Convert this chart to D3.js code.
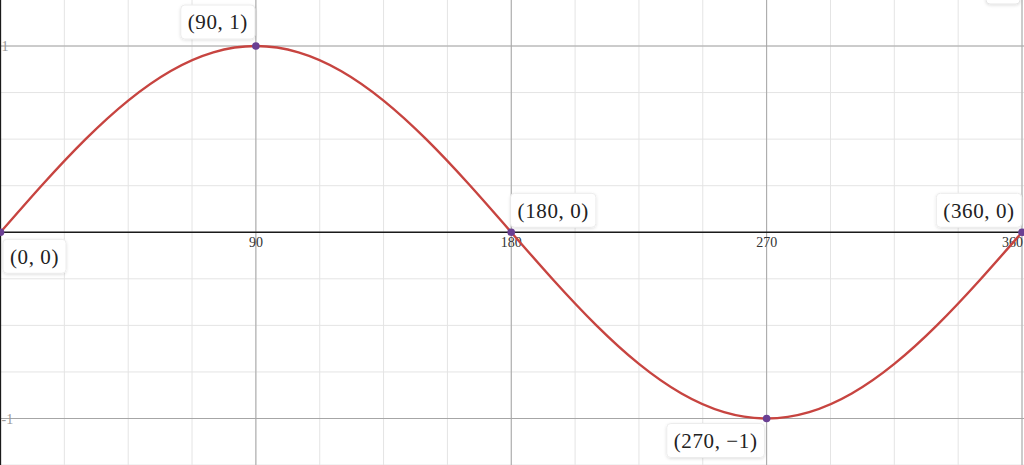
<!DOCTYPE html>
<html><head><meta charset="utf-8">
<script src="https://cdn.jsdelivr.net/npm/d3@7"></script>
<style>
html,body{margin:0;padding:0;background:#fff;overflow:hidden}
svg{display:block}
</style></head>
<body><svg id="c" width="1024" height="465"></svg>
<script>
// Curve samples (degrees, value)
const curveX = [0,15,30,45,60,75,90,105,120,135,150,165,180,195,210,225,240,255,270,285,300,315,330,345,360];
const curveY = [0,0.259,0.5,0.707,0.866,0.966,1,0.966,0.866,0.707,0.5,0.259,0,-0.259,-0.5,-0.707,-0.866,-0.966,-1,-0.966,-0.866,-0.707,-0.5,-0.259,0];
// Labelled points
const pointX = [0,90,180,270,360];
const pointY = [0,1,0,-1,0];
const pointLabels = ["(0, 0)","(90, 1)","(180, 0)","(270, \u22121)","(360, 0)"];
// Axis ticks
const xTicks = [90,180,270,360];
const xTickLabels = ["90","180","270","360"];
const yTicks = [1,-1];
const yTickLabels = ["1","-1"];
const xMinor = d3.range(0,361,22.5);
const yMinor = d3.range(-1.25,1.26,0.25);

const svg = d3.select("#c");
const W = 1024, H = 465;
const x = d3.scaleLinear().domain([0,360]).range([0.5,1022]);
const y = d3.scaleLinear().domain([1,-1]).range([46,418.5]);

// minor grid
svg.append("g").selectAll("line").data(xMinor).join("line")
  .attr("x1",d=>x(d)).attr("x2",d=>x(d)).attr("y1",0).attr("y2",H)
  .attr("stroke","#e4e4e4").attr("stroke-width",1);
svg.append("g").selectAll("line").data(yMinor).join("line")
  .attr("y1",d=>y(d)).attr("y2",d=>y(d)).attr("x1",0).attr("x2",W)
  .attr("stroke","#e4e4e4").attr("stroke-width",1);
// major grid
svg.append("g").selectAll("line").data(xTicks).join("line")
  .attr("x1",d=>x(d)).attr("x2",d=>x(d)).attr("y1",0).attr("y2",H)
  .attr("stroke","#a6a6a6").attr("stroke-width",1);
svg.append("g").selectAll("line").data(yTicks).join("line")
  .attr("y1",d=>y(d)).attr("y2",d=>y(d)).attr("x1",0).attr("x2",W)
  .attr("stroke","#a6a6a6").attr("stroke-width",1);
// axes
svg.append("line").attr("x1",0).attr("x2",W).attr("y1",y(0)).attr("y2",y(0))
  .attr("stroke","#1a1a1a").attr("stroke-width",1.3);
svg.append("line").attr("x1",x(0)).attr("x2",x(0)).attr("y1",0).attr("y2",H)
  .attr("stroke","#1a1a1a").attr("stroke-width",1.3);

// tick labels
const tickFont = "'Liberation Serif','DejaVu Serif',serif";
svg.append("g").selectAll("text").data(xTicks).join("text")
  .attr("x",(d,i)=> i===xTicks.length-1 ? x(d)+1 : x(d))
  .attr("y",y(0)+15)
  .attr("text-anchor",(d,i)=> i===xTicks.length-1 ? "end" : "middle")
  .attr("font-family",tickFont).attr("font-size",14).attr("fill","#333")
  .text((d,i)=>xTickLabels[i]);
svg.append("g").selectAll("text").data(yTicks).join("text")
  .attr("x",x(0)+1).attr("y",d=>y(d)+5)
  .attr("font-family",tickFont).attr("font-size",14).attr("fill","#999")
  .text((d,i)=>yTickLabels[i]);

// curve
const line = d3.line().x(d=>x(d[0])).y(d=>y(d[1])).curve(d3.curveNatural);
svg.append("path").datum(curveX.map((d,i)=>[d,curveY[i]]))
  .attr("d",line).attr("fill","none").attr("stroke","#c74440")
  .attr("stroke-width",2.4).attr("stroke-linejoin","round");

// points
svg.append("g").selectAll("circle").data(pointX).join("circle")
  .attr("cx",d=>x(d)).attr("cy",(d,i)=>y(pointY[i])).attr("r",3.8)
  .attr("fill","#6a3f93");

// label boxes: offsets relative to the point
const labelOff = [[34,24],[-38,-24],[42,-22],[-51,22],[-43,-22]];
const defs = svg.append("defs");
const f = defs.append("filter").attr("id","sh").attr("x","-20%").attr("y","-20%").attr("width","140%").attr("height","150%");
f.append("feDropShadow").attr("dx",0).attr("dy",1).attr("stdDeviation",1.5).attr("flood-color","#000").attr("flood-opacity",0.12);

const lg = svg.append("g").selectAll("g").data(pointX).join("g")
  .attr("transform",(d,i)=>`translate(${x(d)+labelOff[i][0]},${y(pointY[i])+labelOff[i][1]})`);
lg.each(function(d,i){
  const g = d3.select(this);
  const t = g.append("text").attr("text-anchor","middle").attr("dy","0.35em")
    .attr("font-family","'Liberation Serif','DejaVu Serif',serif").attr("font-size",21)
    .attr("letter-spacing",0.6)
    .attr("fill","#222").text(pointLabels[i]);
  const bb = t.node().getBBox();
  g.insert("rect","text").attr("x",bb.x-7).attr("y",-17).attr("width",bb.width+14).attr("height",34)
    .attr("rx",4).attr("fill","#fff").attr("stroke","#ececec").attr("filter","url(#sh)");
});

// partial control box at top right
svg.append("rect").attr("x",986).attr("y",-30).attr("width",34).attr("height",34)
  .attr("rx",4).attr("fill","#fff").attr("stroke","#e6e6e6").attr("filter","url(#sh)");
</script></body></html>
